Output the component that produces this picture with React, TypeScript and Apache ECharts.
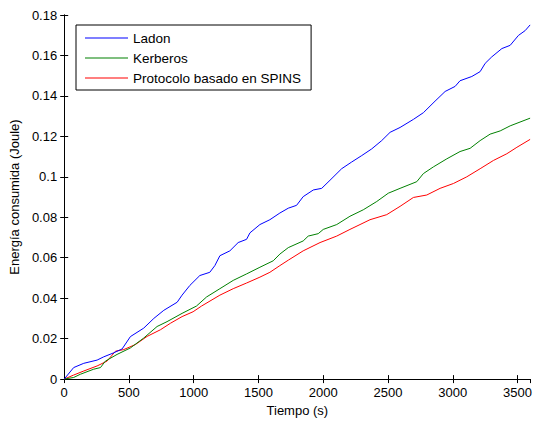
import React, { useEffect, useRef } from "react";
import * as echarts from "echarts";

const ladonT = [0, 73, 151, 254, 305, 383, 447, 511, 614, 692, 769, 872, 910, 970, 1047, 1124, 1163, 1202, 1279, 1343, 1408, 1434, 1511, 1588, 1665, 1730, 1794, 1845, 1923, 1988, 2052, 2142, 2219, 2297, 2374, 2451, 2516, 2593, 2696, 2773, 2863, 2941, 3018, 3056, 3147, 3211, 3250, 3301, 3379, 3443, 3507, 3559, 3597];
const ladonE = [0, 0.0057, 0.0078, 0.0094, 0.011, 0.013, 0.0149, 0.021, 0.0252, 0.030, 0.034, 0.038, 0.0415, 0.0463, 0.0512, 0.0528, 0.0561, 0.061, 0.0634, 0.0675, 0.0691, 0.0723, 0.0764, 0.0788, 0.0821, 0.0845, 0.0859, 0.0902, 0.0935, 0.0943, 0.0983, 0.104, 0.1073, 0.1105, 0.1138, 0.1179, 0.122, 0.1244, 0.1284, 0.1317, 0.1374, 0.1422, 0.1447, 0.1475, 0.1496, 0.152, 0.1561, 0.1593, 0.1634, 0.165, 0.1699, 0.1723, 0.1751];

const kerberosT = [0, 73, 125, 228, 280, 318, 408, 511, 614, 717, 794, 910, 1021, 1099, 1202, 1305, 1408, 1511, 1614, 1665, 1730, 1845, 1884, 1961, 2000, 2104, 2206, 2309, 2413, 2502, 2593, 2722, 2773, 2850, 2954, 3056, 3134, 3211, 3288, 3366, 3443, 3597];
const kerberosE = [0, 0.0008, 0.0024, 0.0049, 0.0057, 0.0089, 0.0122, 0.0154, 0.0203, 0.026, 0.0284, 0.0325, 0.0361, 0.0406, 0.0447, 0.0488, 0.052, 0.0553, 0.0585, 0.0618, 0.065, 0.0683, 0.0707, 0.0719, 0.074, 0.0764, 0.0805, 0.0837, 0.0878, 0.0919, 0.0943, 0.0976, 0.1016, 0.1049, 0.1089, 0.1125, 0.1141, 0.1179, 0.1211, 0.1227, 0.1252, 0.129];

const spinsT = [0, 73, 151, 254, 331, 396, 460, 550, 640, 743, 820, 910, 995, 1060, 1202, 1305, 1408, 1511, 1588, 1665, 1730, 1845, 1975, 2104, 2206, 2284, 2361, 2490, 2593, 2696, 2799, 2902, 3005, 3108, 3211, 3314, 3417, 3495, 3597];
const spinsE = [0, 0.002, 0.004, 0.0065, 0.0089, 0.0138, 0.0146, 0.0171, 0.0211, 0.0244, 0.0276, 0.0309, 0.0333, 0.0361, 0.0415, 0.0447, 0.0475, 0.0504, 0.0528, 0.0561, 0.0588, 0.0634, 0.0675, 0.0707, 0.074, 0.0764, 0.0788, 0.0813, 0.0854, 0.0898, 0.091, 0.0943, 0.0967, 0.1, 0.104, 0.1081, 0.1114, 0.1146, 0.1185];

const seriesNames = ["Ladon", "Kerberos", "Protocolo basado en SPINS"];
const seriesColors = ["#0000ff", "#008000", "#ff0000"];
const xTicks = { min: 0, max: 3600, interval: 500 };
const yTicks = { min: 0, max: 0.18, interval: 0.02 };

const FONT = "'Liberation Sans', Arial, Helvetica, sans-serif";

function pairs(t: number[], e: number[]) {
  return t.map((v, i) => [v, e[i]]);
}

export default function App() {
  const ref = useRef<HTMLDivElement>(null);
  useEffect(() => {
    if (!ref.current) return;
    const chart = echarts.init(ref.current, undefined, { renderer: "svg" });
    const axisCommon = {
      axisLine: { show: true, lineStyle: { color: "#000", width: 1 } },
      axisTick: { show: true, inside: true, length: 4, lineStyle: { color: "#000", width: 1 } },
      splitLine: { show: false },
    };
    const data = [pairs(ladonT, ladonE), pairs(kerberosT, kerberosE), pairs(spinsT, spinsE)];
    chart.setOption({
      animation: false,
      backgroundColor: "#fff",
      textStyle: { fontFamily: FONT },
      grid: { left: 64, right: 4, top: 15, bottom: 39, containLabel: false },
      legend: {
        orient: "vertical",
        left: 76,
        top: 25,
        padding: [6, 10, 5, 9],
        itemWidth: 43,
        itemHeight: 1.2,
        itemGap: 6,
        icon: "rect",
        backgroundColor: "#fff",
        borderColor: "#000",
        borderWidth: 1,
        borderRadius: 0,
        textStyle: { fontFamily: FONT, fontSize: 13.5, lineHeight: 14, color: "#000" },
        data: seriesNames,
      },
      xAxis: [
        {
          type: "value",
          ...xTicks,
          ...axisCommon,
          name: "Tiempo (s)",
          nameLocation: "middle",
          nameGap: 24,
          nameTextStyle: { fontFamily: FONT, fontSize: 13, color: "#000" },
          axisLabel: {
            color: "#000",
            fontSize: 13,
            fontFamily: FONT,
            margin: 7,
            showMaxLabel: false,
            formatter: (v: number) => String(v),
          },
        },
        {
          type: "value",
          position: "top",
          ...xTicks,
          ...axisCommon,
          axisLabel: { show: false },
        },
      ],
      yAxis: [
        {
          type: "value",
          ...yTicks,
          ...axisCommon,
          name: "Energía consumida (Joule)",
          nameLocation: "middle",
          nameGap: 40,
          nameTextStyle: { fontFamily: FONT, fontSize: 13, color: "#000" },
          axisLabel: {
            color: "#000",
            fontSize: 13,
            fontFamily: FONT,
            margin: 7,
            formatter: (v: number) => (v === 0 ? "0" : String(+v.toFixed(2))),
          },
        },
        {
          type: "value",
          position: "right",
          ...yTicks,
          ...axisCommon,
          axisLabel: { show: false },
        },
      ],
      series: seriesNames.map((name, i) => ({
        name,
        type: "line",
        xAxisIndex: 0,
        yAxisIndex: 0,
        data: data[i],
        symbol: "none",
        showSymbol: false,
        color: seriesColors[i],
        lineStyle: { color: seriesColors[i], width: 1 },
        z: 3 - i,
      })),
    });
    return () => chart.dispose();
  }, []);
  return (
    <div
      ref={ref}
      style={{ position: "fixed", left: 0, top: 0, width: 535, height: 422, background: "#fff" }}
    />
  );
}
